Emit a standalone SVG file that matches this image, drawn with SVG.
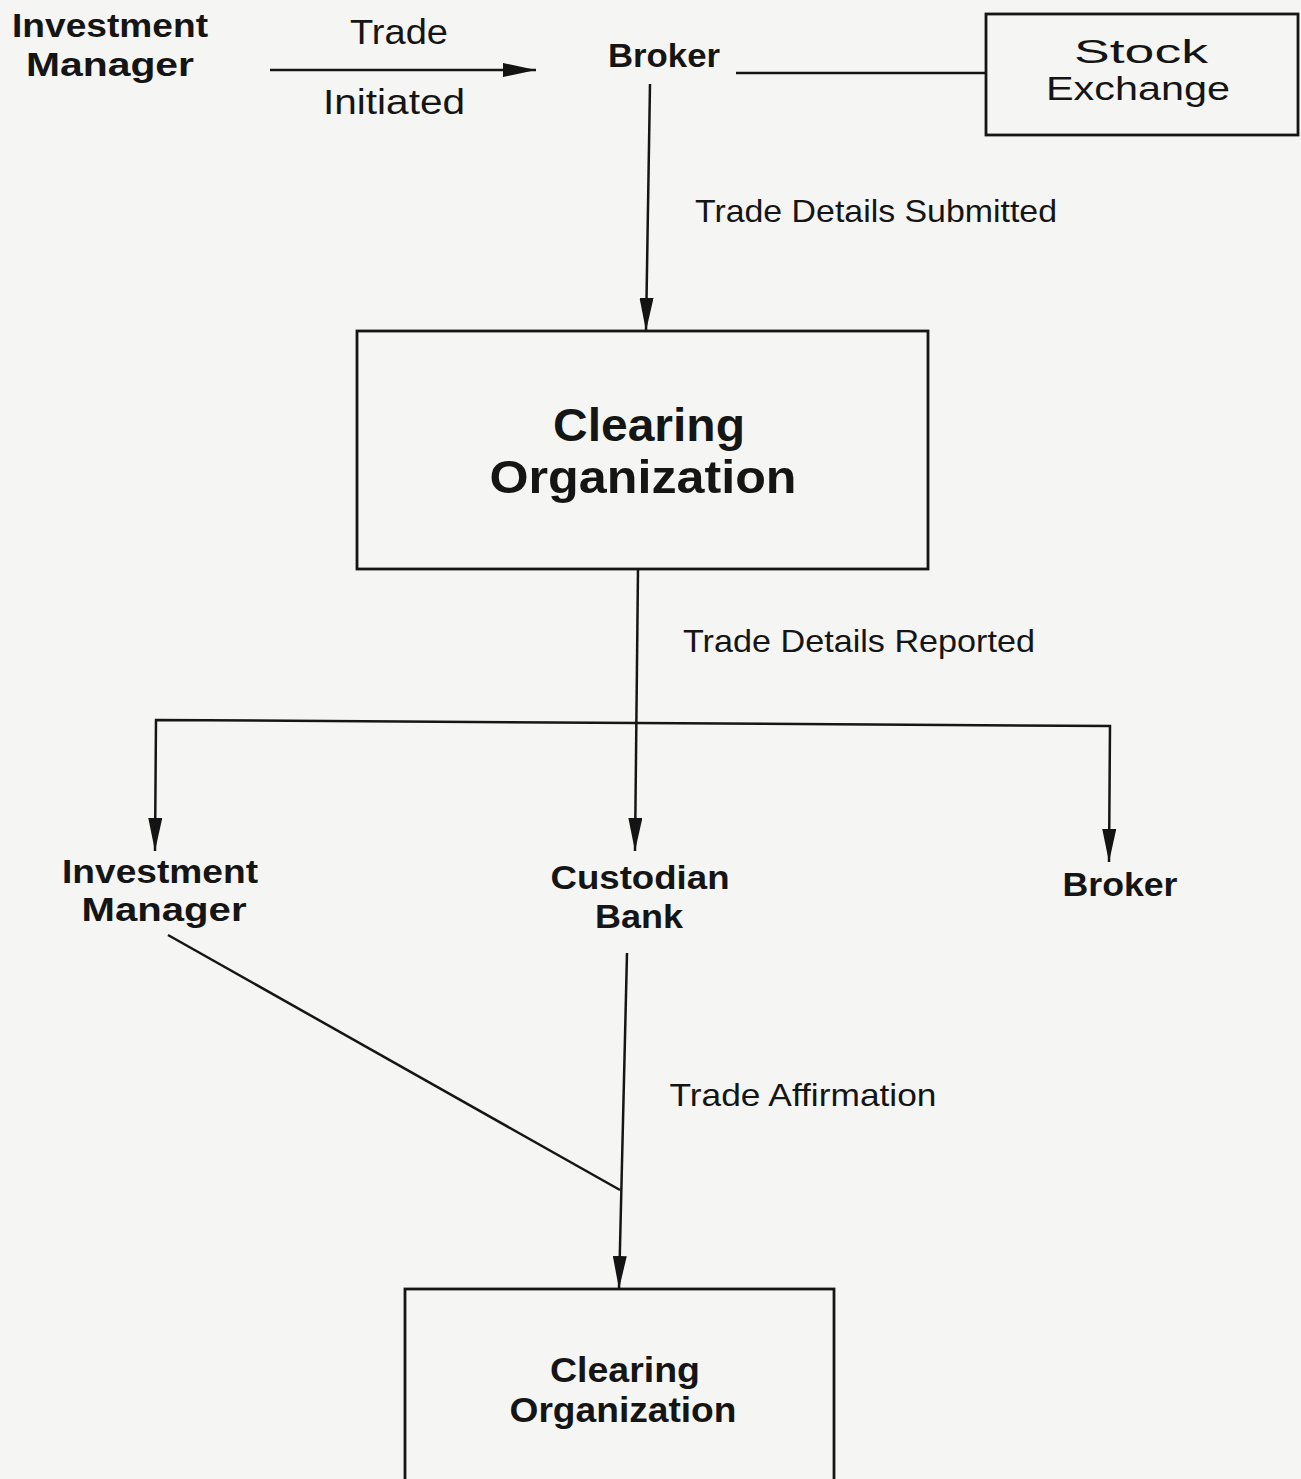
<svg xmlns="http://www.w3.org/2000/svg" width="1301" height="1479" viewBox="0 0 1301 1479">
  <defs>
    <marker id="head" markerUnits="userSpaceOnUse" markerWidth="34" markerHeight="14" refX="33" refY="7" orient="auto">
      <path d="M0,0 L33,7 L0,14 Z" fill="#141414"/>
    </marker>
    <style>
      .lbl { font-family: "Liberation Sans", "DejaVu Sans", sans-serif; fill: #151515; text-anchor: middle; }
      .b { font-weight: bold; }
      .n { font-weight: normal; }
      .box { fill: none; stroke: #151515; stroke-width: 2.8; }
      .wire { fill: none; stroke: #151515; stroke-width: 2.5; }
      .arrow { marker-end: url(#head); }
    </style>
  </defs>

  <!-- paper -->
  <rect x="0" y="0" width="1301" height="1479" fill="#f5f5f3"/>

  <!-- connectors -->
  <g id="connectors">
    <!-- trade initiated: investment manager to broker -->
    <line class="wire arrow" x1="270" y1="70" x2="536" y2="70"/>
    <!-- broker to stock exchange -->
    <line class="wire" x1="736" y1="73" x2="986" y2="73"/>
    <!-- trade details submitted -->
    <line class="wire arrow" x1="650" y1="84" x2="646" y2="331"/>
    <!-- trade details reported: trunk and branches -->
    <line class="wire arrow" x1="638" y1="569" x2="635" y2="851"/>
    <polyline class="wire arrow" points="637,723 156,720 155,851"/>
    <polyline class="wire arrow" points="637,723 1110,726 1109,862"/>
    <!-- trade affirmation -->
    <line class="wire" x1="168" y1="935" x2="620" y2="1190"/>
    <line class="wire arrow" x1="627" y1="953" x2="619" y2="1289"/>
  </g>

  <!-- edge labels -->
  <g id="edge-labels">
    <text class="lbl n" x="399" y="44" font-size="35" textLength="98" lengthAdjust="spacingAndGlyphs">Trade</text>
    <text class="lbl n" x="394" y="114" font-size="35" textLength="142" lengthAdjust="spacingAndGlyphs">Initiated</text>
    <text class="lbl n" x="876" y="222" font-size="32" textLength="362" lengthAdjust="spacingAndGlyphs">Trade Details Submitted</text>
    <text class="lbl n" x="859" y="652" font-size="32" textLength="352" lengthAdjust="spacingAndGlyphs">Trade Details Reported</text>
    <text class="lbl n" x="803" y="1106" font-size="32" textLength="267" lengthAdjust="spacingAndGlyphs">Trade Affirmation</text>
  </g>

  <g id="investment-manager-top">
    <text class="lbl b" x="110" y="37" font-size="33" textLength="196" lengthAdjust="spacingAndGlyphs">Investment</text>
    <text class="lbl b" x="110" y="76" font-size="33" textLength="168" lengthAdjust="spacingAndGlyphs">Manager</text>
  </g>

  <g id="broker-top">
    <text class="lbl b" x="664" y="67" font-size="33" textLength="112" lengthAdjust="spacingAndGlyphs">Broker</text>
  </g>

  <g id="stock-exchange">
    <rect class="box" x="986" y="14" width="312" height="121"/>
    <text class="lbl n" x="1141" y="63" font-size="33" textLength="134" lengthAdjust="spacingAndGlyphs">Stock</text>
    <text class="lbl n" x="1138" y="100" font-size="33" textLength="184" lengthAdjust="spacingAndGlyphs">Exchange</text>
  </g>

  <g id="clearing-organization-top">
    <rect class="box" x="357" y="331" width="571" height="238"/>
    <text class="lbl b" x="649" y="441" font-size="46" textLength="192" lengthAdjust="spacingAndGlyphs">Clearing</text>
    <text class="lbl b" x="643" y="493" font-size="46" textLength="307" lengthAdjust="spacingAndGlyphs">Organization</text>
  </g>

  <g id="investment-manager">
    <text class="lbl b" x="160" y="883" font-size="33.5" textLength="196" lengthAdjust="spacingAndGlyphs">Investment</text>
    <text class="lbl b" x="164" y="921" font-size="33.5" textLength="165" lengthAdjust="spacingAndGlyphs">Manager</text>
  </g>

  <g id="custodian-bank">
    <text class="lbl b" x="640" y="889" font-size="34" textLength="179" lengthAdjust="spacingAndGlyphs">Custodian</text>
    <text class="lbl b" x="639" y="928" font-size="34" textLength="88" lengthAdjust="spacingAndGlyphs">Bank</text>
  </g>

  <g id="broker">
    <text class="lbl b" x="1120" y="896" font-size="33" textLength="115" lengthAdjust="spacingAndGlyphs">Broker</text>
  </g>

  <g id="clearing-organization">
    <rect class="box" x="405" y="1289" width="429" height="220"/>
    <text class="lbl b" x="625" y="1382" font-size="35" textLength="150" lengthAdjust="spacingAndGlyphs">Clearing</text>
    <text class="lbl b" x="623" y="1422" font-size="35" textLength="227" lengthAdjust="spacingAndGlyphs">Organization</text>
  </g>
</svg>
